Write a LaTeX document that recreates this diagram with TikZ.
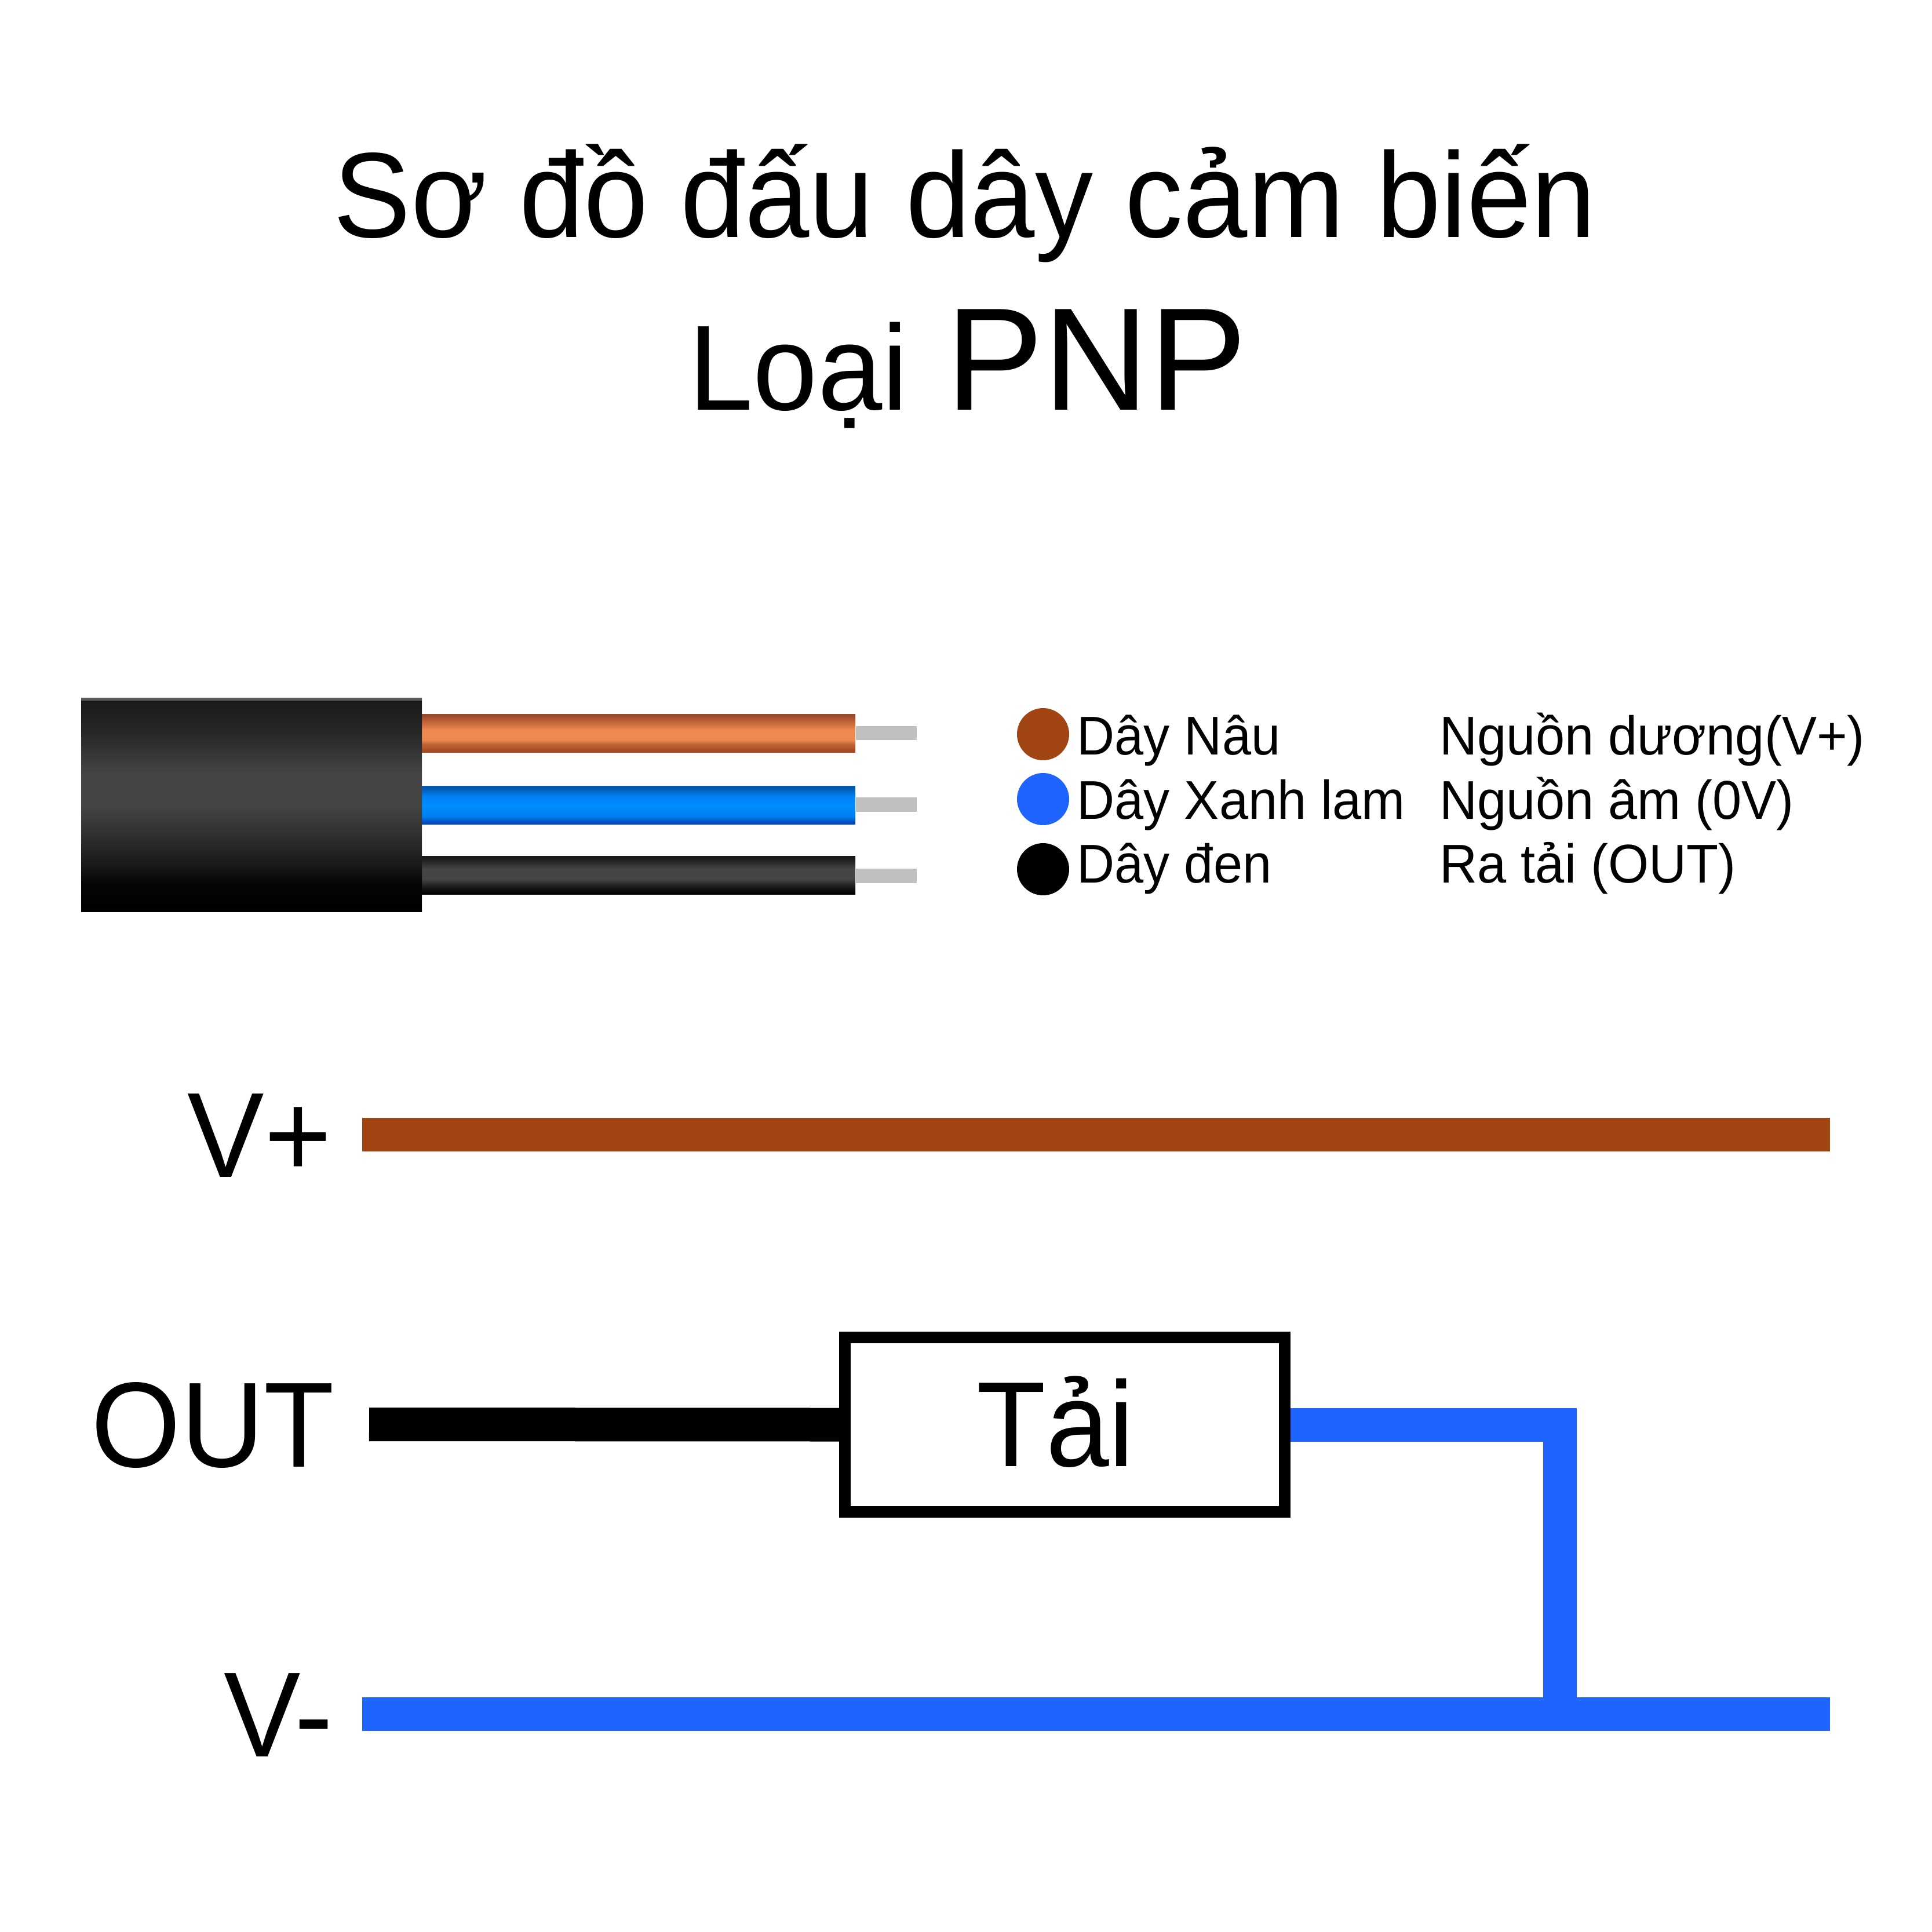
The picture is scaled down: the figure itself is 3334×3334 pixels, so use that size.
\documentclass[tikz,border=0pt]{standalone}
\usepackage{fontspec}
\setmainfont[FakeStretch=0.957]{Liberation Sans}
\newfontfamily\WideFont{Liberation Sans}
\newfontfamily\RailFont[FakeStretch=0.95]{Liberation Sans}
\newfontfamily\LoadFont[FakeStretch=0.935]{Liberation Sans}
\definecolor{WireBrown}{HTML}{A04513}
\definecolor{WireBlue}{HTML}{2064FF}
\definecolor{TipGray}{HTML}{C0C0C0}
\definecolor{BrownA}{HTML}{A84A20}
\definecolor{BrownB}{HTML}{C06838}
\definecolor{BrownC}{HTML}{EE8A50}
\definecolor{BrownD}{HTML}{D07040}
\definecolor{BrownE}{HTML}{B05530}
\definecolor{BrownF}{HTML}{96492F}
\definecolor{BlueA}{HTML}{0048B8}
\definecolor{BlueB}{HTML}{0080F0}
\definecolor{BlueC}{HTML}{008CFF}
\definecolor{BlueD}{HTML}{0058B0}
\pgfdeclareverticalshading{JacketShade}{100bp}{
  color(0bp)=(black); color(25bp)=(black); color(31.5bp)=(black!98);
  color(36bp)=(black!90); color(50bp)=(black!73); color(57bp)=(black!73);
  color(67bp)=(black!85); color(74.3bp)=(black!90); color(74.4bp)=(black!65); color(100bp)=(black!65)}
\pgfdeclareverticalshading{WireBlackShade}{100bp}{
  color(0bp)=(black); color(25bp)=(black); color(32bp)=(black!93);
  color(45bp)=(black!73); color(58bp)=(black!73); color(72bp)=(black!90); color(100bp)=(black!90)}
\pgfdeclareverticalshading{BrownShade}{100bp}{
  color(0bp)=(BrownA); color(27bp)=(BrownA); color(36bp)=(BrownB); color(41bp)=(BrownC);
  color(54bp)=(BrownC); color(61bp)=(BrownD); color(69bp)=(BrownE); color(73bp)=(BrownF);
  color(100bp)=(BrownF)}
\pgfdeclareverticalshading{BlueShade}{100bp}{
  color(0bp)=(BlueA); color(27bp)=(BlueA); color(35bp)=(BlueB); color(50bp)=(BlueC);
  color(62bp)=(BlueB); color(72bp)=(BlueD); color(100bp)=(BlueD)}
\tikzstyle{Title}=[font=\fontsize{59.5}{60}\selectfont,anchor=base,inner sep=0pt]
\tikzstyle{Legend}=[font=\fontsize{26.8}{27}\selectfont,anchor=base west,inner sep=0pt]
\tikzstyle{RailLabel}=[font=\RailFont\fontsize{59.5}{60}\selectfont,anchor=base east,inner sep=0pt]
\tikzstyle{Dot}=[circle,minimum size=9mm,inner sep=0pt]
\tikzstyle{Tip}=[rectangle,fill=TipGray,inner sep=0pt,minimum width=10.5mm,minimum height=2.45mm]
\tikzstyle{Wire}=[line width=5.8mm]
\tikzstyle{Load}=[rectangle,draw=black,line width=2.0mm,minimum width=75.9mm,minimum height=30.1mm,inner sep=0pt]
\tikzstyle{LoadText}=[font=\LoadFont\fontsize{59.5}{60}\selectfont,anchor=base west,inner sep=0pt]

\begin{document}
\begin{tikzpicture}[x=0.1mm, y=-0.1mm]
		\useasboundingbox (0,0) rectangle (3334,3334);
		
		% Title
		\node[Title] (TitleTop) at (1665,409) {Sơ đồ đấu dây cảm biến};
		\node[Title] (TitleLoai) at (1670,707) {Loại\kern1mm{} {\WideFont\fontsize{71.8}{72}\selectfont PNP}};
		
		% Cable
		\shade[shading=BrownShade] (726,1232) rectangle (1476,1298);
		\shade[shading=BlueShade] (726,1356) rectangle (1476,1422);
		\shade[shading=WireBlackShade] (726,1477) rectangle (1476,1543);
		\shade[shading=JacketShade] (140,1204) rectangle (728,1573);
		\node[Tip] (TipBrown) at (1529,1265) {};
		\node[Tip] (TipBlue) at (1529,1388.5) {};
		\node[Tip] (TipBlack) at (1529,1511.5) {};
		
		% Legend
		\node[Dot,fill=WireBrown] (DotBrown) at (1800,1267) {};
		\node[Dot,fill=WireBlue] (DotBlue) at (1800,1379) {};
		\node[Dot,fill=black] (DotBlack) at (1800,1500) {};
		\node[Legend] (NameBrown) at (1858,1302) {Dây Nâu};
		\node[Legend] (NameBlue) at (1858,1413) {Dây Xanh lam};
		\node[Legend] (NameBlack) at (1858,1523) {Dây đen};
		\node[Legend] (UseBrown) at (2484,1302) {Nguồn dương(V+)};
		\node[Legend] (UseBlue) at (2484,1413) {Nguồn âm (0V)};
		\node[Legend] (UseBlack) at (2484,1523) {Ra tải (OUT)};
		
		% Rails
		\node[RailLabel] (LabelVp) at (573,2031) {V+};
		\node[RailLabel] (LabelOut) at (578,2531) {OUT};
		\node[RailLabel] (LabelVm) at (575,3031) {V-};
		\coordinate (VpLeft) at (625,1958);
		\coordinate (VpRight) at (3158,1958);
		\coordinate (OutLeft) at (637,2458);
		\coordinate (VmLeft) at (625,2958);
		\coordinate (VmRight) at (3158,2958);
		\coordinate (Junction) at (2691.5,2958);
		\node[Load] (LoadBox) at (1837.5,2458.5) {};
		\node[LoadText] (LoadLabel) at (1685,2530) {Tải};
		
		% Connections
		\draw[Wire,draw=WireBrown] (VpLeft) -- (VpRight);
		\draw[Wire,draw=black] (OutLeft) -- (LoadBox.west);
		\draw[Wire,draw=WireBlue] (VmLeft) -- (VmRight);
		\draw[Wire,draw=WireBlue] (LoadBox.east) -| (Junction);
		
	\end{tikzpicture}
\end{document}
